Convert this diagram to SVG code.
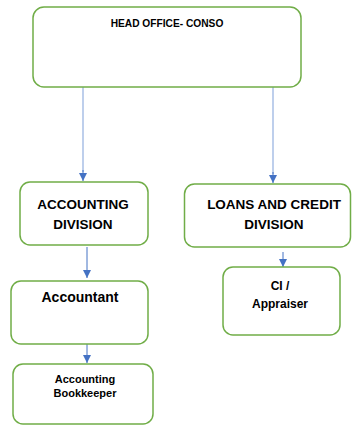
<svg xmlns="http://www.w3.org/2000/svg" width="352" height="427" viewBox="0 0 352 427">
<style>
.box{fill:#fff;stroke:#70AD47;stroke-width:1.5}
.t{font-family:"Liberation Sans",Arial,sans-serif;font-weight:bold;fill:#000;text-anchor:middle}
.ln{stroke:#4472C4;stroke-width:1;fill:none}
.ln2{stroke:#A9BFE6;stroke-width:1.5;fill:none}
</style>
<defs>
<marker id="ah" markerWidth="8" markerHeight="8" refX="8" refY="4" orient="auto" markerUnits="userSpaceOnUse">
<path d="M0,0 L8,4 L0,8 Z" fill="#4472C4"/>
</marker>
</defs>
<rect width="352" height="427" fill="#fff"/>
<g id="connectors">
<line class="ln2" x1="83" y1="87" x2="83" y2="172"/>
<line class="ln" x1="83" y1="170" x2="83" y2="181" marker-end="url(#ah)"/>
<line class="ln2" x1="273" y1="87" x2="273" y2="174"/>
<line class="ln" x1="273" y1="172" x2="273" y2="183" marker-end="url(#ah)"/>
<line class="ln" x1="87" y1="247" x2="87" y2="278" marker-end="url(#ah)"/>
<line class="ln" x1="283" y1="252" x2="283" y2="267" marker-end="url(#ah)"/>
<line class="ln" x1="87" y1="335" x2="87" y2="363" marker-end="url(#ah)"/>
</g>
<g id="head">
<rect class="box" x="33" y="7" width="268" height="80" rx="11"/>
<text class="t" x="167" y="26.5" font-size="10.2">HEAD OFFICE- CONSO</text>
</g>
<g id="accdiv">
<rect class="box" x="20" y="182" width="128" height="63" rx="10"/>
<text class="t" x="83" y="209" font-size="13.5">ACCOUNTING</text>
<text class="t" x="83" y="229" font-size="13.5">DIVISION</text>
</g>
<g id="loans">
<rect class="box" x="184.5" y="184" width="166" height="63" rx="10"/>
<text class="t" x="274" y="209" font-size="13.5">LOANS AND CREDIT</text>
<text class="t" x="274" y="229" font-size="13.5">DIVISION</text>
</g>
<g id="accountant">
<rect class="box" x="11" y="281" width="137" height="63" rx="10"/>
<text class="t" x="80" y="302" font-size="14">Accountant</text>
</g>
<g id="ci">
<rect class="box" x="223" y="267" width="117" height="68" rx="10"/>
<text class="t" x="280" y="290" font-size="12">CI /</text>
<text class="t" x="280" y="308" font-size="12">Appraiser</text>
</g>
<g id="bookkeeper">
<rect class="box" x="13" y="364" width="140" height="60" rx="10"/>
<text class="t" x="85" y="383" font-size="11">Accounting</text>
<text class="t" x="85" y="397" font-size="11">Bookkeeper</text>
</g>
</svg>
